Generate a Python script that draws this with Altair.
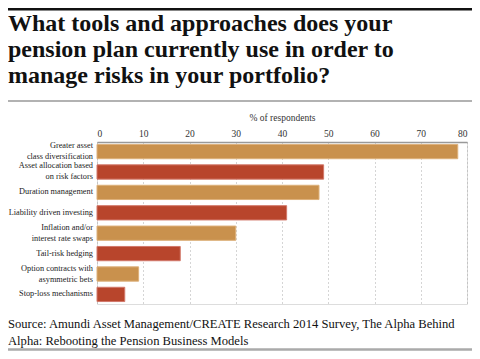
import altair as alt
import pandas as pd

categories = [
    "Greater asset|class diversification",
    "Asset allocation based|on risk factors",
    "Duration management",
    "Liability driven investing",
    "Inflation and/or|interest rate swaps",
    "Tail-risk hedging",
    "Option contracts with|asymmetric bets",
    "Stop-loss mechanisms",
]
values = [78, 49, 48, 41, 30, 18, 9, 6]
tones = ["ochre", "rust", "ochre", "rust", "ochre", "rust", "ochre", "rust"]
x_ticks = [0, 10, 20, 30, 40, 50, 60, 70, 80]

title_lines = [
    "What tools and approaches does your",
    "pension plan currently use in order to",
    "manage risks in your portfolio?",
]
source_lines = [
    "Source: Amundi Asset Management/CREATE Research 2014 Survey, The Alpha Behind",
    "Alpha: Rebooting the Pension Business Models",
]

parts = [c.split("|") for c in categories]
df = pd.DataFrame({
    "category": categories,
    "value": values,
    "tone": tones,
    "line1": [p[0] for p in parts],
    "line2": [p[1] if len(p) > 1 else "" for p in parts],
    "nlines": [len(p) for p in parts],
})

W, H = 370, 162
LEFT, TOP = 89, 134
TOTAL_W, TOTAL_H = 464, 343
SERIF = "Liberation Serif"

y_enc_axis = alt.Y(
    "category:N",
    sort=categories,
    scale=alt.Scale(paddingInner=0.3, paddingOuter=0.12),
    axis=alt.Axis(title=None, labels=False, ticks=False, domainColor="#999", domainWidth=1.5),
)
y_enc_plain = alt.Y("category:N", sort=categories, axis=None)

base = alt.Chart(df)

bars = base.mark_bar(strokeWidth=1).encode(
    x=alt.X(
        "value:Q",
        scale=alt.Scale(domain=[0, 80], nice=False),
        axis=alt.Axis(
            orient="top",
            values=x_ticks,
            title="% of respondents",
            titleFont=SERIF,
            titleFontSize=9.5,
            titleFontWeight="normal",
            titleColor="#333",
            titlePadding=6,
            labelFont=SERIF,
            labelFontSize=9.5,
            labelColor="#333",
            labelPadding=4,
            ticks=False,
            domainColor="#999",
            domainWidth=1.5,
            grid=True,
            gridDash=[1, 3],
            gridColor="#aaa",
        ),
    ),
    y=y_enc_axis,
    color=alt.Color(
        "tone:N",
        scale=alt.Scale(domain=["ochre", "rust"], range=["#C9914D", "#B8452C"]),
        legend=None,
    ),
    stroke=alt.Stroke(
        "tone:N",
        scale=alt.Scale(domain=["ochre", "rust"], range=["#DDB07A", "#D2786A"]),
        legend=None,
    ),
)

lab_style = dict(font=SERIF, fontSize=8.3, align="right", baseline="middle", color="#222")
lab_single = base.transform_filter("datum.nlines == 1").mark_text(**lab_style).encode(
    x=alt.value(-4), y=y_enc_plain, text="line1:N"
)
lab_first = base.transform_filter("datum.nlines == 2").mark_text(dy=-5.5, **lab_style).encode(
    x=alt.value(-4), y=y_enc_plain, text="line1:N"
)
lab_second = base.transform_filter("datum.nlines == 2").mark_text(dy=5.5, **lab_style).encode(
    x=alt.value(-4), y=y_enc_plain, text="line2:N"
)

title = alt.Chart().mark_text(
    font=SERIF, fontSize=24, fontWeight="bold", align="left", baseline="top",
    lineHeight=26, color="#111",
).encode(x=alt.value(-LEFT), y=alt.value(-TOP + 4), text=alt.value(title_lines))

source = alt.Chart().mark_text(
    font=SERIF, fontSize=12.6, align="left", baseline="top", lineHeight=17, color="#111",
).encode(x=alt.value(-LEFT), y=alt.value(H + 14), text=alt.value(source_lines))

top_rule = alt.Chart().mark_rule(color="#111", strokeWidth=2.5).encode(
    x=alt.value(-LEFT), x2=alt.value(TOTAL_W - LEFT), y=alt.value(-TOP + 1.25)
)
mid_rule = alt.Chart().mark_rule(color="#999", strokeWidth=1.5).encode(
    x=alt.value(-LEFT), x2=alt.value(TOTAL_W - LEFT), y=alt.value(-41)
)
bottom_rule = alt.Chart().mark_rule(color="#aaa", strokeWidth=2.5).encode(
    x=alt.value(-LEFT), x2=alt.value(TOTAL_W - LEFT), y=alt.value(TOTAL_H - TOP - 1.5)
)

chart = alt.layer(
    bars, lab_single, lab_first, lab_second, title, source, top_rule, mid_rule, bottom_rule
).properties(
    width=W,
    height=H,
    padding={"left": LEFT, "top": TOP, "right": TOTAL_W - LEFT - W, "bottom": TOTAL_H - TOP - H},
    autosize=alt.AutoSizeParams(type="none"),
).configure_view(stroke=None).configure(background="white")

chart.save("out.html", embed_options={"renderer": "svg", "actions": False})
